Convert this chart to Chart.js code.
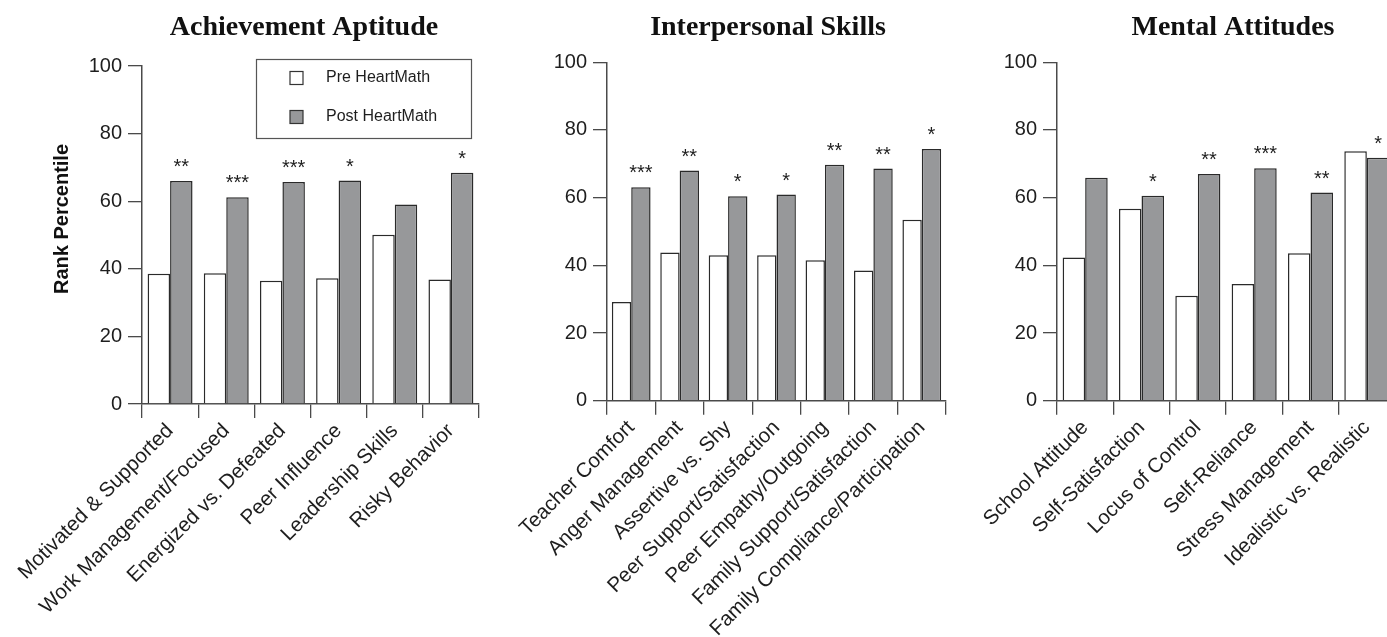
<!DOCTYPE html>
<html>
<head>
<meta charset="utf-8">
<script src="https://cdn.jsdelivr.net/npm/chart.js@4"></script>
<style>
  html, body { margin: 0; padding: 0; background: #fff; overflow: hidden; }
  body { width: 1387px; height: 637px; position: relative; }
  canvas { position: absolute; top: 0; }
</style>
</head>
<body>
<canvas id="achievement" width="500" height="637" style="left:0px"></canvas>
<canvas id="interpersonal" width="480" height="637" style="left:480px"></canvas>
<canvas id="mental" width="470" height="637" style="left:940px"></canvas>
<script>
// Rank percentiles, pre and post HeartMath, with significance marks
const achLabels = ["Motivated & Supported", "Work Management/Focused", "Energized vs. Defeated",
  "Peer Influence", "Leadership Skills", "Risky Behavior"];
const achPre = [38.5, 38.7, 36.5, 37.2, 50.1, 36.8];
const achPost = [66.0, 61.2, 65.7, 66.1, 59.0, 68.4];
const achStars = ["**", "***", "***", "*", "", "*"];

const intLabels = ["Teacher Comfort", "Anger Management", "Assertive vs. Shy", "Peer Support/Satisfaction",
  "Peer Empathy/Outgoing", "Family Support/Satisfaction", "Family Compliance/Participation"];
const intPre = [29.2, 43.8, 43.0, 43.0, 41.5, 38.5, 53.5];
const intPost = [63.1, 68.0, 60.4, 60.9, 69.7, 68.6, 74.4];
const intStars = ["***", "**", "*", "*", "**", "**", "*"];

const menLabels = ["School Attitude", "Self-Satisfaction", "Locus of Control", "Self-Reliance",
  "Stress Management", "Idealistic vs. Realistic"];
const menPre = [42.3, 56.7, 31.0, 34.5, 43.6, 73.7];
const menPost = [65.9, 60.6, 67.0, 68.7, 61.5, 71.8];
const menStars = ["", "*", "**", "***", "**", "*"];

const yTicks = [0, 20, 40, 60, 80, 100];
const seriesNames = ["Pre HeartMath", "Post HeartMath"];

const SANS = '"Liberation Sans", Arial, Helvetica, sans-serif';
const SERIF = '"Liberation Serif", "Times New Roman", serif';
const INK = "#1e1e1e";
const AXIS = "#4a4a4a";
const PRE_FILL = "#ffffff";
const POST_FILL = "#97989a";

// panel heading over the plot
const panelTitle = {
  id: "panelTitle",
  afterDraw(chart, args, opts) {
    const { ctx, chartArea } = chart;
    ctx.save();
    ctx.font = "bold 28px " + SERIF;
    ctx.fillStyle = "#111";
    ctx.textAlign = "center";
    ctx.textBaseline = "alphabetic";
    ctx.fillText(opts.text, (chartArea.left + chartArea.right) / 2 + opts.shift, 35);
    if (opts.yTitle) {
      ctx.translate(chartArea.left - 80, chartArea.top + 153);
      ctx.rotate(-Math.PI / 2);
      ctx.font = "bold 20px " + SANS;
      ctx.textBaseline = "middle";
      ctx.fillText(opts.yTitle, 0, 0);
    }
    ctx.restore();
  }
};

// asterisks over the post bars
const starMarks = {
  id: "starMarks",
  afterDatasetsDraw(chart, args, opts) {
    const { ctx } = chart;
    const meta = chart.getDatasetMeta(1);
    ctx.save();
    ctx.font = "20px " + SANS;
    ctx.fillStyle = INK;
    ctx.textAlign = "center";
    ctx.textBaseline = "alphabetic";
    meta.data.forEach((bar, i) => {
      const s = opts.marks[i];
      if (s) ctx.fillText(s, bar.x, bar.y - 8);
    });
    ctx.restore();
  }
};

// boxed key inside the first panel
const keyBox = {
  id: "keyBox",
  afterDraw(chart, args, opts) {
    if (!opts.show) return;
    const { ctx, chartArea } = chart;
    const x = chartArea.left + 114.5, y = chartArea.top - 6.5;
    ctx.save();
    ctx.strokeStyle = "#555";
    ctx.lineWidth = 1.2;
    ctx.fillStyle = "#fff";
    ctx.fillRect(x, y, 215, 79);
    ctx.strokeRect(x, y, 215, 79);
    ctx.font = "16px " + SANS;
    ctx.textBaseline = "middle";
    chart.data.datasets.forEach((ds, i) => {
      const cy = y + 18.5 + i * 39;
      ctx.fillStyle = ds.backgroundColor;
      ctx.fillRect(x + 33.5, cy - 6.5, 13, 13);
      ctx.strokeStyle = "#333";
      ctx.lineWidth = 1.2;
      ctx.strokeRect(x + 33.5, cy - 6.5, 13, 13);
      ctx.fillStyle = INK;
      ctx.fillText(ds.label, x + 69.5, cy);
    });
    ctx.restore();
  }
};

function makePanel(id, labels, pre, post, stars, cfg) {
  return new Chart(document.getElementById(id), {
    type: "bar",
    data: {
      labels: labels,
      datasets: [
        { label: seriesNames[0], data: pre, backgroundColor: PRE_FILL, borderColor: "#2a2a2a", borderWidth: 1.5 },
        { label: seriesNames[1], data: post, backgroundColor: POST_FILL, borderColor: "#2a2a2a", borderWidth: 1.5 }
      ]
    },
    options: {
      responsive: false,
      animation: false,
      categoryPercentage: 0.8,
      barPercentage: 1.0,
      layout: { padding: { left: 0, right: cfg.padRight, top: cfg.top, bottom: 0 } },
      plugins: {
        legend: { display: false },
        tooltip: { enabled: false },
        panelTitle: { text: cfg.title, shift: cfg.shift, yTitle: cfg.yTitle },
        starMarks: { marks: stars },
        keyBox: { show: !!cfg.key }
      },
      scales: {
        x: {
          grid: { offset: true, drawOnChartArea: false, tickLength: 14, color: AXIS, lineWidth: 1.3 },
          border: { color: AXIS, width: 1.5 },
          ticks: { minRotation: 45, maxRotation: 45, autoSkip: false, padding: 1, color: INK,
                   font: { family: SANS, size: 20.6 } },
          afterFit(scale) { scale.height = cfg.xHeight; }
        },
        y: {
          min: 0, max: 100,
          afterBuildTicks(scale) { scale.ticks = yTicks.map(v => ({ value: v })); },
          grid: { drawOnChartArea: false, tickLength: 14, color: AXIS, lineWidth: 1.3 },
          border: { color: AXIS, width: 1.5 },
          ticks: { padding: 6, color: INK, font: { family: SANS, size: 20 } },
          afterFit(scale) { scale.width = cfg.yWidth; }
        }
      }
    },
    plugins: [panelTitle, starMarks, keyBox]
  });
}

makePanel("achievement", achLabels, achPre, achPost, achStars,
  { title: "Achievement Aptitude", shift: -6.5, yTitle: "Rank Percentile", key: true,
    yWidth: 142, padRight: 21, top: 66, xHeight: 233 });
makePanel("interpersonal", intLabels, intPre, intPost, intStars,
  { title: "Interpersonal Skills", shift: -8.5, yWidth: 127, padRight: 14, top: 62.3, xHeight: 236.3 });
makePanel("mental", menLabels, menPre, menPost, menStars,
  { title: "Mental Attitudes", shift: 7, yWidth: 117, padRight: 15, top: 62.3, xHeight: 236.3 });
</script>
</body>
</html>
